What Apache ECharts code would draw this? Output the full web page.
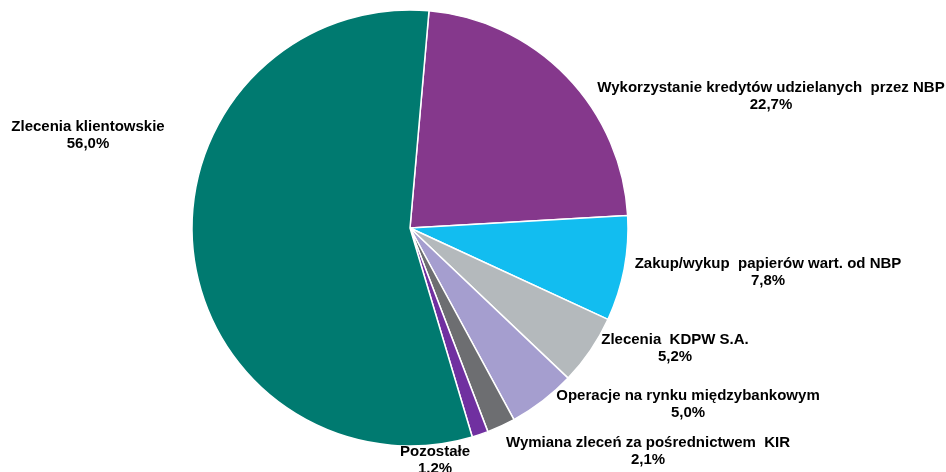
<!DOCTYPE html>
<html>
<head>
<meta charset="utf-8">
<script src="https://cdn.jsdelivr.net/npm/echarts@6/dist/echarts.min.js"></script>
<style>
  html, body { margin: 0; padding: 0; background: #fff; }
  #chart { width: 946px; height: 472px; }
</style>
</head>
<body>
<div id="chart"></div>
<script>
// slices, clockwise from the top
const names = [
  'Wykorzystanie kredytów udzielanych  przez NBP',
  'Zakup/wykup  papierów wart. od NBP',
  'Zlecenia  KDPW S.A.',
  'Operacje na rynku międzybankowym',
  'Wymiana zleceń za pośrednictwem  KIR',
  'Pozostałe',
  'Zlecenia klientowskie'
];
const shares = [22.7, 7.8, 5.2, 5.0, 2.1, 1.2, 56.0];

const colors = ['#85388C', '#12BDF0', '#B4B9BC', '#A59ECF', '#6D6E71', '#7030A0', '#007A70'];
// label centres (px) in the same order as the slices
const labelPos = [[771, 96], [768, 272], [675, 348], [688, 404], [648, 451], [435, 460], [88, 135]];

const chart = echarts.init(document.getElementById('chart'));

chart.setOption({
  animation: false,
  series: [{
    type: 'pie',
    center: [410, 228],
    radius: 218,
    startAngle: 85,
    clockwise: true,
    data: names.map((n, i) => ({ name: n, value: shares[i], itemStyle: { color: colors[i] } })),
    itemStyle: { borderColor: '#fff', borderWidth: 1.5 },
    label: {
      show: true,
      position: 'outside',
      formatter: p => p.name + '\n' + shares[p.dataIndex].toFixed(1).replace('.', ',') + '%',
      fontFamily: 'Liberation Sans, Arial, sans-serif',
      fontWeight: 'bold',
      fontSize: 15,
      lineHeight: 17,
      color: '#000',
      align: 'center',
      overflow: 'none'
    },
    labelLine: { show: false },
    labelLayout: p => ({
      x: labelPos[p.dataIndex][0],
      y: labelPos[p.dataIndex][1],
      align: 'center',
      verticalAlign: 'middle'
    }),
    emphasis: { disabled: true }
  }]
});
</script>
</body>
</html>
